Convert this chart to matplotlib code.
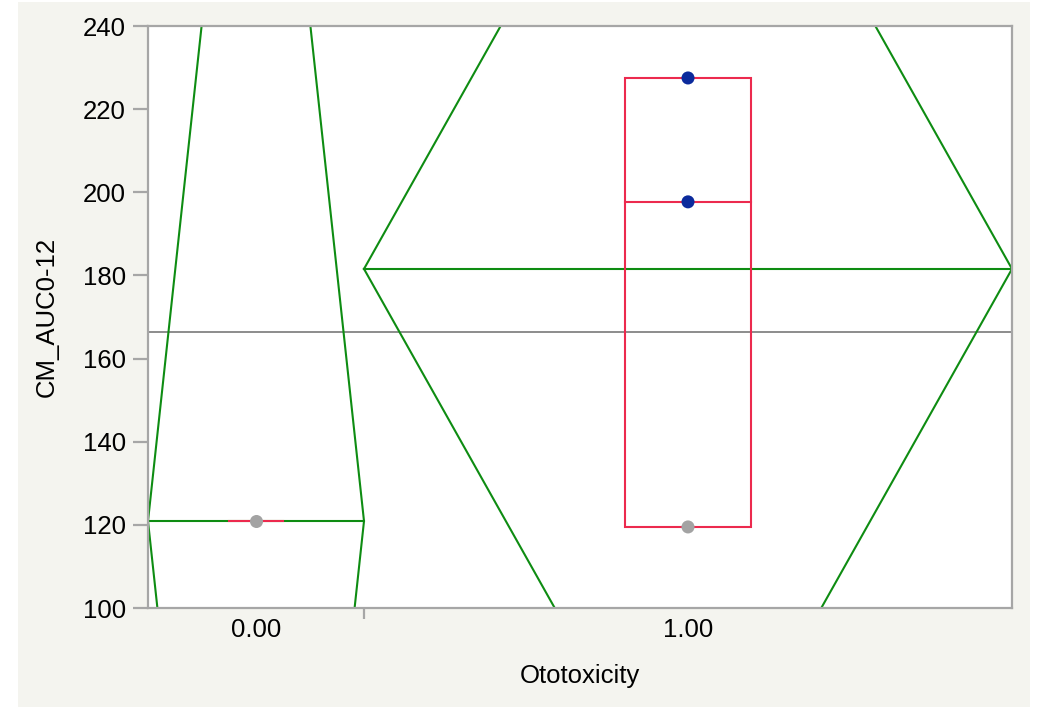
import numpy as np
import matplotlib
matplotlib.use("Agg")
import matplotlib.pyplot as plt
from matplotlib.patches import Rectangle

plt.rcParams['font.family'] = ['Liberation Sans', 'DejaVu Sans']

# Data
group_labels = ["0.00", "1.00"]
group0_values = [120.9]
group1_values = [227.5, 197.7, 119.5]
group1_colors = ["#0B2A9C", "#0B2A9C", "#A3A3A3"]
group0_colors = ["#A3A3A3"]
y_ticks = [100, 120, 140, 160, 180, 200, 220, 240]
t_crit = 4.3027  # t(0.975, df=2)

groups = [np.array(group0_values), np.array(group1_values)]
colors = [group0_colors, group1_colors]

GREEN = "#0E8C12"
RED = "#EC2A4E"
FRAME = "#A6A6A6"
PANEL = "#F4F4EF"
FS = 18.5

fig = plt.figure(figsize=(10.38, 7.07), dpi=100)
fig.patch.set_facecolor("white")
fig.patches.append(Rectangle((18 / 1038, 0), (1030 - 18) / 1038, 705 / 707,
                             transform=fig.transFigure, facecolor=PANEL,
                             edgecolor="none", zorder=-10))

ax = fig.add_axes([148 / 1038, 1 - 608 / 707, (1012 - 148) / 1038, (608 - 26) / 707])
ax.set_facecolor("white")

# Group widths proportional to sample size
ns = np.array([len(g) for g in groups])
edges = np.concatenate([[0], np.cumsum(ns)]).astype(float)
centers = (edges[:-1] + edges[1:]) / 2
total_n = ns.sum()

all_vals = np.concatenate(groups)
grand_mean = all_vals.mean()
means = np.array([g.mean() for g in groups])
sse = sum(((g - g.mean()) ** 2).sum() for g in groups)
rmse = np.sqrt(sse / (total_n - len(groups)))
ci = t_crit * rmse / np.sqrt(ns)

ax.set_xlim(0, total_n)
ax.set_ylim(100, 240)

# Grand mean
ax.axhline(grand_mean, color="#8C8C8C", lw=1.4, zorder=1)

# Means diamonds, box plots and points
box_half = [0.125, 0.29]
for i, g in enumerate(groups):
    l, r, c, m, h = edges[i], edges[i + 1], centers[i], means[i], ci[i]
    ax.plot([l, c, r, c, l], [m, m + h, m, m - h, m], color=GREEN, lw=1.5, zorder=2)
    ax.plot([l, r], [m, m], color=GREEN, lw=1.5, zorder=2)

    q1, med, q3 = np.min(g), np.median(g), np.max(g)
    bh = box_half[i]
    if len(g) > 1:
        ax.add_patch(Rectangle((c - bh, q1), 2 * bh, q3 - q1, fill=False,
                               edgecolor=RED, lw=1.5, zorder=3))
    ax.plot([c - bh, c + bh], [med, med], color=RED, lw=1.5, zorder=3)

    ax.scatter(np.full(len(g), c), g, s=88, c=colors[i], zorder=4, linewidths=0)

# Axes styling
for side in ["left", "bottom", "top", "right"]:
    ax.spines[side].set_color(FRAME)
    ax.spines[side].set_linewidth(1.6)

ax.set_yticks(y_ticks)
ax.set_yticklabels([str(v) for v in y_ticks])
ax.tick_params(axis="y", length=11, width=1.6, color=FRAME, labelsize=FS, pad=5)

ax.set_xticks(centers)
ax.set_xticklabels(group_labels)
ax.tick_params(axis="x", length=0, labelsize=FS, pad=7)
# separator tick between groups
ax.set_xticks(edges[1:-1], minor=True)
ax.tick_params(axis="x", which="minor", length=8, width=1.6, color=FRAME)

ax.set_xlabel("Ototoxicity", fontsize=FS, labelpad=16)
ax.set_ylabel("CM_AUC0-12", fontsize=FS, labelpad=17)

fig.savefig("out.png", dpi=100, facecolor="white")
